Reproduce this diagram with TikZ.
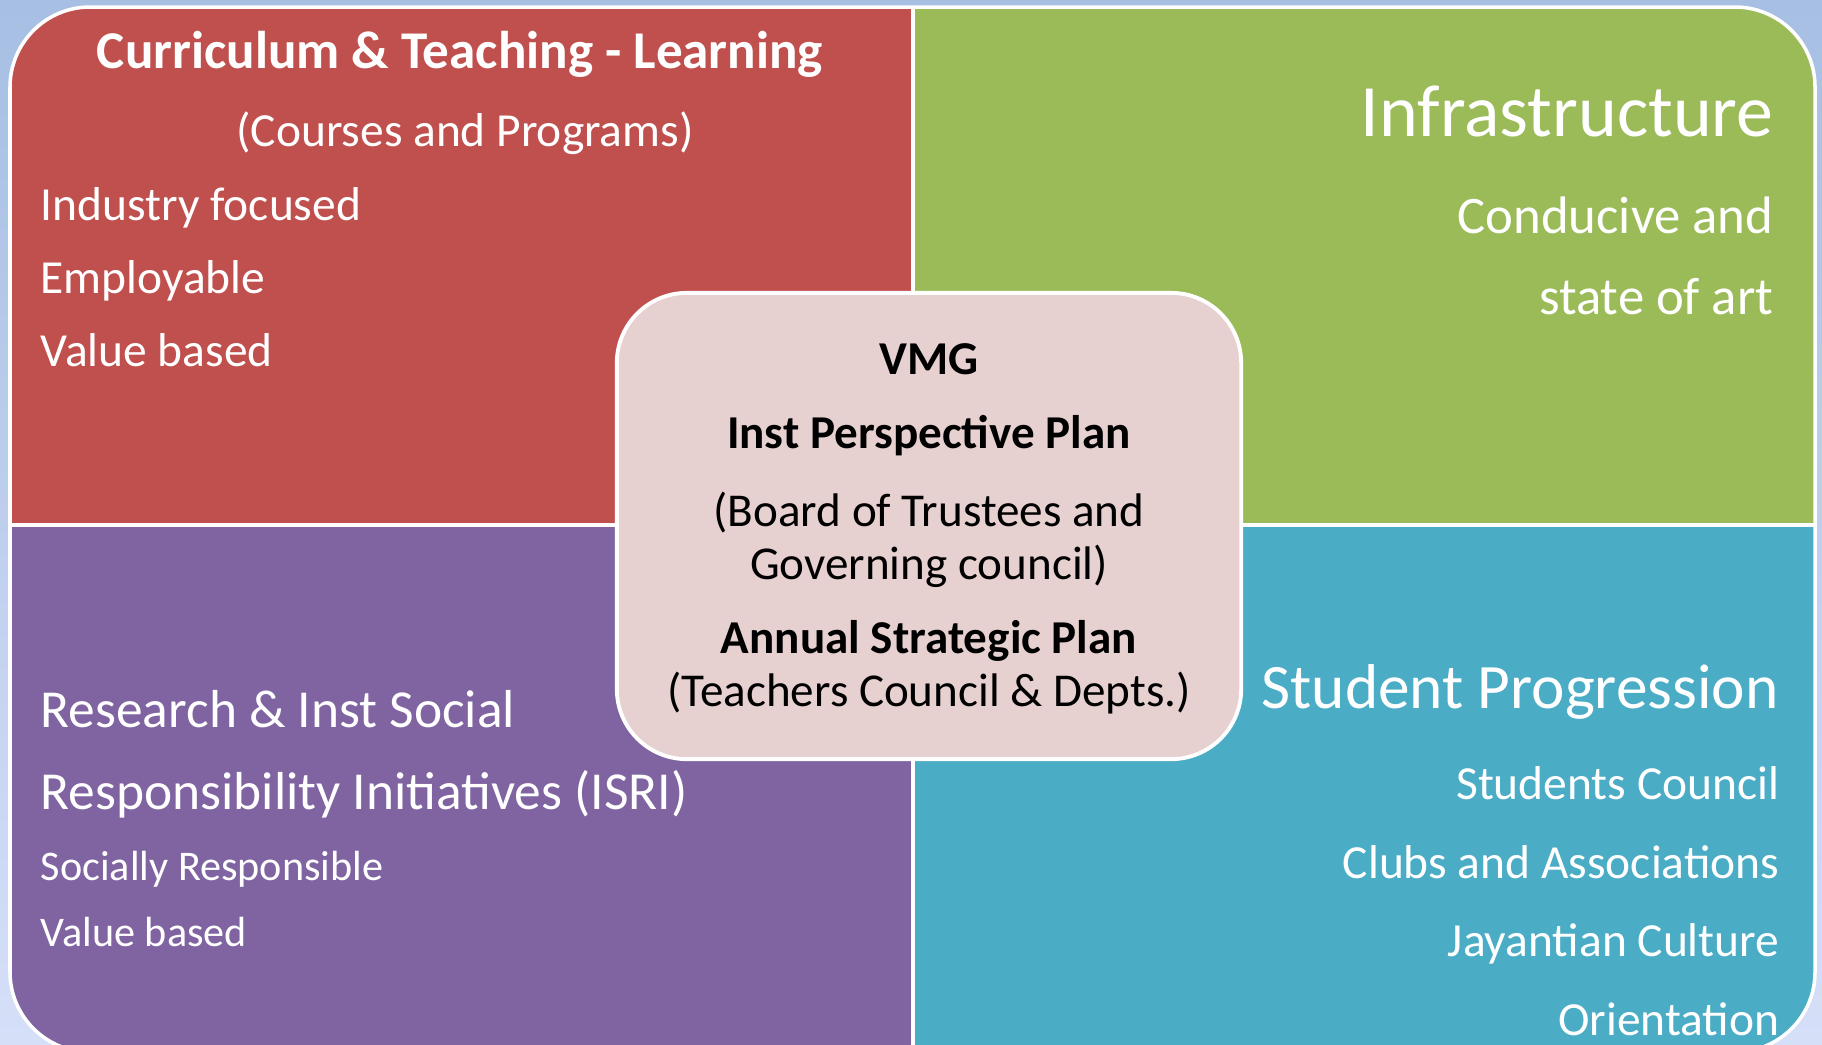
\documentclass[tikz,border=0pt]{standalone}
\usepackage{fontspec}
\setmainfont{Carlito}
\usetikzlibrary{positioning}
\definecolor{bgtop}{RGB}{166,191,227}
\definecolor{bgbot}{RGB}{214,223,248}
\definecolor{quadred}{RGB}{192,80,77}
\definecolor{quadgreen}{RGB}{155,187,89}
\definecolor{quadpurple}{RGB}{128,100,162}
\definecolor{quadblue}{RGB}{75,172,198}
\definecolor{vmgfill}{RGB}{231,208,208}
\def\rc{0.8cm}
\tikzset{
    item/.style = {text=white, inner sep=0pt, font=\fontsize{13.5}{16}\selectfont},
    small/.style = {text=white, inner sep=0pt, font=\fontsize{12}{14}\selectfont},
    head/.style = {text=white, inner sep=0pt, font=\fontsize{18}{22}\selectfont},
    core/.style = {text=black, inner sep=0pt, font=\fontsize{13.4}{16}\selectfont},
    vmg/.style = {
        draw=white, line width=1.1pt, fill=vmgfill, rounded corners=0.7cm,
        minimum width=6.24cm, minimum height=4.66cm
    }
}
\begin{document}
\begin{tikzpicture}[x=0.01cm, y=-0.01cm]
        \useasboundingbox (0,0) rectangle (1822,1044);
        \fill[top color=bgtop, bottom color=bgbot] (0,0) rectangle (1822,1044);
        % Quadrants
        \begin{scope}
            \clip[rounded corners=\rc] (10,7) rectangle (1815,1052);
            \fill[quadred] (10,7) rectangle (913,525);
            \fill[quadgreen] (913,7) rectangle (1815,525);
            \fill[quadpurple] (10,525) rectangle (913,1052);
            \fill[quadblue] (913,525) rectangle (1815,1052);
            \draw[white, line width=1.2pt] (913,7) -- (913,1052);
            \draw[white, line width=1.2pt] (10,525) -- (1815,525);
        \end{scope}
        \draw[white, line width=1pt, rounded corners=\rc] (10,7) rectangle (1815,1052);
        % Curriculum
        \node[item, font=\fontsize{15.1}{18}\bfseries, anchor=mid] (curtitle) at (460,60) {Curriculum \& Teaching - Learning};
        \node[item, anchor=mid] (cursub) at (465,138) {(Courses and Programs)};
        \foreach \t/\y [count=\i] in {Industry focused/212, Employable/285, Value based/358}{
            \node[item, anchor=mid west] (cur\i) at (40,\y) {\t};
        }
        % Infrastructure
        \node[head, font=\fontsize{21}{24}\selectfont, anchor=mid east] (inftitle) at (1774,128) {Infrastructure};
        \node[item, font=\fontsize{15}{18}\selectfont, anchor=mid east] (inf1) at (1774,225) {Conducive and};
        \node[item, font=\fontsize{15}{18}\selectfont, anchor=mid east] (inf2) at (1774,306) {state of art};
        % Research
        \node[head, font=\fontsize{15.2}{18}\selectfont, anchor=mid west] (restitle) at (40,719) {Research \& Inst Social};
        \node[head, font=\fontsize{15.2}{18}\selectfont, anchor=mid west] (restitle2) at (40,801) {Responsibility Initiatives (ISRI)};
        \node[small, anchor=mid west] (res1) at (40,872) {Socially Responsible};
        \node[small, anchor=mid west] (res2) at (40,938) {Value based};
        % Student progression
        \node[head, anchor=mid east] (stutitle) at (1779,700) {Student Progression};
        \foreach \t/\y [count=\i] in {Students Council/791, Clubs and Associations/870, Jayantian Culture/948, Orientation/1027}{
            \node[item, anchor=mid east] (stu\i) at (1780,\y) {\t};
        }
        % Centre box
        \node[vmg] (vmgbox) at (929,526) {};
        \node[core, font=\fontsize{13.4}{16}\bfseries, anchor=mid] (vmgt) at (929,366) {VMG};
        \node[core, font=\fontsize{13.4}{16}\bfseries, anchor=mid] (ipp) at (929,440) {Inst Perspective Plan};
        \node[core, anchor=mid] (bot1) at (929,518) {(Board of Trustees and};
        \node[core, anchor=mid] (bot2) at (929,571) {Governing council)};
        \node[core, font=\fontsize{13.4}{16}\bfseries, anchor=mid] (asp) at (929,645) {Annual Strategic Plan};
        \node[core, anchor=mid] (tcd) at (929,698) {(Teachers Council \& Depts.)};
    \end{tikzpicture}
\end{document}
